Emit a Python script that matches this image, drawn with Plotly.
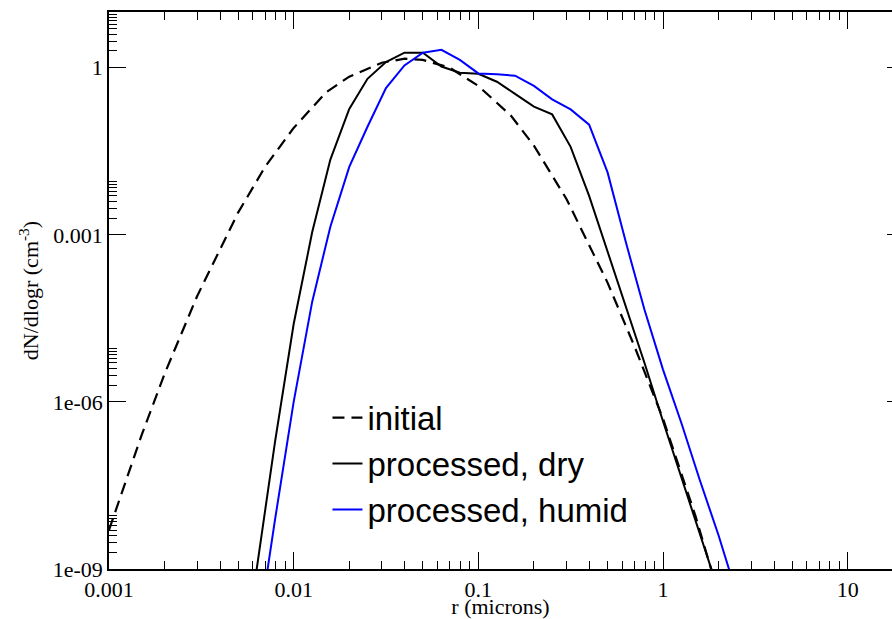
import plotly.graph_objects as go

# ---- data ----
r_initial = [0.001, 0.0015, 0.002, 0.003, 0.005, 0.007, 0.01, 0.015, 0.02, 0.03, 0.04,
             0.05, 0.07, 0.1, 0.15, 0.2, 0.3, 0.5, 0.7, 1.0, 1.5, 2.0]
n_initial = [5.0e-9, 2.5e-7, 3.2e-6, 7.9e-5, 2.5e-3, 0.0166, 0.083, 0.363, 0.69, 1.23, 1.45,
             1.38, 1.0, 0.47, 0.138, 0.040, 4.4e-3, 1.4e-4, 1.0e-5, 5.0e-7, 8.9e-9, 3.5e-10]

r_processed = [0.00501, 0.00631, 0.00794, 0.0100, 0.0126, 0.0158, 0.0200, 0.0251, 0.0316,
               0.0398, 0.0501, 0.0631, 0.0794, 0.100, 0.126, 0.158, 0.200, 0.251, 0.316,
               0.398, 0.501, 0.631, 0.794, 1.00, 1.26, 1.58, 2.00, 2.51]
n_dry = [5.0e-12, 1.0e-9, 2.0e-7, 2.5e-5, 1.12e-3, 0.0224, 0.182, 0.631, 1.26,
         1.86, 1.86, 1.05, 0.81, 0.78, 0.56, 0.34, 0.20, 0.145, 0.038,
         5.0e-3, 5.0e-4, 5.0e-5, 5.0e-6, 4.5e-7, 4.5e-8, 4.5e-9, 4.0e-10, 4.0e-11]
n_humid = [4.0e-13, 5.0e-11, 8.0e-9, 1.0e-6, 6.3e-5, 1.4e-3, 0.0166, 0.087, 0.43,
           1.10, 1.86, 2.09, 1.38, 0.79, 0.76, 0.72, 0.47, 0.27, 0.178,
           0.095, 0.0132, 7.1e-4, 4.5e-5, 3.8e-6, 4.1e-7, 4.0e-8, 4.0e-9, 3.5e-10]

x_major = [0.001, 0.01, 0.1, 1, 10]
x_labels = ["0.001", "0.01", "0.1", "1", "10"]
y_major = [1e-9, 1e-6, 1e-3, 1]
y_labels = ["1e-09", "1e-06", "0.001", "1"]
x_minor = [m * 10.0 ** e for e in range(-3, 2) for m in range(2, 10)]
y_minor = [m * 10.0 ** e for e in (-9, -6, -3, 0) for m in range(2, 10)]

SERIF = "Liberation Serif, Times New Roman, serif"
SANS = "Liberation Sans, Arial, sans-serif"

fig = go.Figure()
fig.add_trace(go.Scatter(x=r_initial, y=n_initial, mode="lines", name="initial",
                         line=dict(color="black", width=2.2, dash="12px,7px")))
fig.add_trace(go.Scatter(x=r_processed, y=n_dry, mode="lines", name="processed, dry",
                         line=dict(color="black", width=2)))
fig.add_trace(go.Scatter(x=r_processed, y=n_humid, mode="lines", name="processed, humid",
                         line=dict(color="#0000ff", width=2)))
# empty trace so the right-hand tick axis is drawn
fig.add_trace(go.Scatter(x=[], y=[], yaxis="y2", showlegend=False, hoverinfo="skip"))

axis_common = dict(
    type="log", showgrid=False, zeroline=False, showline=True,
    linecolor="black", linewidth=1.5,
    ticks="inside", ticklen=17, tickwidth=1, tickcolor="black",
    tickfont=dict(family=SERIF, size=22, color="black"),
)

fig.update_layout(
    width=892, height=619,
    margin=dict(l=109, r=0, t=12, b=50),
    paper_bgcolor="white", plot_bgcolor="white",
    showlegend=True,
    legend=dict(x=0.279, y=0.322, xanchor="left", yanchor="top",
                bgcolor="rgba(0,0,0,0)", font=dict(family=SANS, size=33, color="black"),
                tracegroupgap=0),
    xaxis=dict(**axis_common, range=[-3, 1.24], tickvals=x_major, ticktext=x_labels,
               mirror="ticks",
               minor=dict(tickvals=x_minor, ticks="inside", ticklen=8, tickwidth=1,
                          tickcolor="black", showgrid=False),
               title=dict(text="r (microns)", font=dict(family=SERIF, size=22, color="black"),
                          standoff=1)),
    yaxis=dict(**axis_common, range=[-9, 1], tickvals=y_major, ticktext=y_labels,
               minor=dict(tickvals=y_minor, ticks="inside", ticklen=8, tickwidth=1,
                          tickcolor="black", showgrid=False),
               title=dict(text="dN/dlogr (cm<sup>-3</sup>)",
                          font=dict(family=SERIF, size=22, color="black"), standoff=8)),
    yaxis2=dict(type="log", range=[-9, 1], overlaying="y", side="right", anchor="x",
                showgrid=False, zeroline=False, showline=False, showticklabels=False,
                tickvals=y_major, ticks="inside", ticklen=5, tickwidth=1, tickcolor="black"),
)

fig.write_html(
    "out.html",
    config={"displayModeBar": False},
    post_script="document.body.style.margin='0';"
                "document.documentElement.style.overflow='hidden';"
                "document.body.style.overflow='hidden';",
)
